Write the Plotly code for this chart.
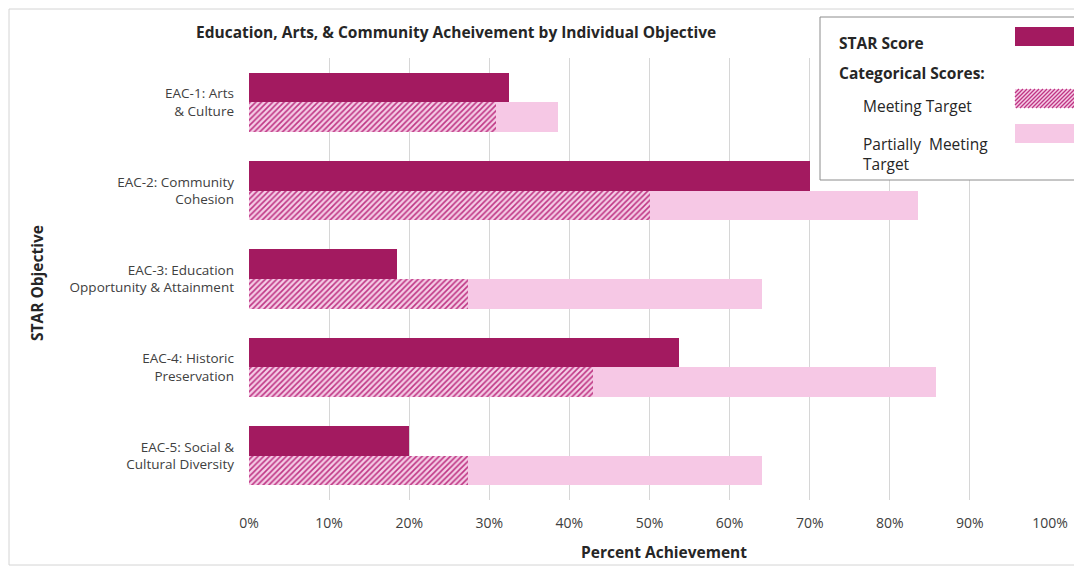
import plotly.graph_objects as go

categories = ["EAC-1: Arts<br>& Culture", "EAC-2: Community<br>Cohesion",
              "EAC-3: Education<br>Opportunity & Attainment",
              "EAC-4: Historic<br>Preservation", "EAC-5: Social &<br>Cultural Diversity"]
star_score = [32.5, 70.0, 18.5, 53.7, 20.0]
meeting_target = [30.8, 50.0, 27.3, 43.0, 27.3]
partial_total = [38.6, 83.5, 64.0, 85.8, 64.0]
partial_target = [round(t - m, 1) for t, m in zip(partial_total, meeting_target)]
tick_vals = [0, 10, 20, 30, 40, 50, 60, 70, 80, 90, 100]
tick_text = [f"{v}%" for v in tick_vals]

STAR_C = "#A31A60"
PART_C = "#F6C8E5"
HATCH_FG = "#BF3584"
HATCH_BG = "#F5CDE6"
FONT = "Open Sans"

OFF = 8  # page body margin
W, H = 1082 - OFF, 568 - OFF
# plot area in page pixel coordinates
L, R, T, B = 249, 1050, 58, 500


def px(x):
    return (x - L) / (R - L)


def py(y):
    return (B - y) / (B - T)


fig = go.Figure()
bw = 0.335
fig.add_trace(go.Bar(y=categories, x=star_score, orientation="h", width=bw, offset=-bw,
                     marker=dict(color=STAR_C, line=dict(width=0)), name="STAR Score",
                     showlegend=False))
fig.add_trace(go.Bar(y=categories, x=meeting_target, orientation="h", width=bw, offset=0,
                     marker=dict(color=HATCH_BG, line=dict(width=0),
                                 pattern=dict(shape="/", fgcolor=HATCH_FG, bgcolor=HATCH_BG,
                                              size=4, solidity=0.4, fillmode="replace")),
                     name="Meeting Target", showlegend=False))
fig.add_trace(go.Bar(y=categories, x=partial_target, base=meeting_target, orientation="h",
                     width=bw, offset=0, marker=dict(color=PART_C, line=dict(width=0)),
                     name="Partially Meeting Target", showlegend=False))

shapes = []
# outer chart frame
shapes.append(dict(type="rect", xref="paper", yref="paper", x0=px(9), x1=px(1077),
                   y0=py(9), y1=py(565), line=dict(color="#D4D4D4", width=1), layer="below"))
# legend box
shapes.append(dict(type="rect", xref="paper", yref="paper", x0=px(820), x1=px(1095),
                   y0=py(17), y1=py(180), line=dict(color="#8C8C8C", width=1),
                   fillcolor="white", layer="above"))
# legend swatches
shapes.append(dict(type="rect", xref="paper", yref="paper", x0=px(1015), x1=px(1095),
                   y0=py(27), y1=py(46), line=dict(width=0), fillcolor=STAR_C, layer="above"))
shapes.append(dict(type="rect", xref="paper", yref="paper", x0=px(1015), x1=px(1095),
                   y0=py(89), y1=py(108), line=dict(width=0), fillcolor=HATCH_BG, layer="above"))
shapes.append(dict(type="rect", xref="paper", yref="paper", x0=px(1015), x1=px(1095),
                   y0=py(124), y1=py(143), line=dict(width=0), fillcolor=PART_C, layer="above"))
# hatch lines for legend swatch
xa, xb, ya, yb = 1015, 1095, 89, 108
path = ""
c = xa + ya
while c <= xb + yb:
    xs = max(xa, c - yb)
    xe = min(xb, c - ya)
    if xe > xs:
        path += f"M{px(xs):.5f},{py(c - xs):.5f} L{px(xe):.5f},{py(c - xe):.5f} "
    c += 4
shapes.append(dict(type="path", xref="paper", yref="paper", path=path,
                   line=dict(color=HATCH_FG, width=1.3), layer="above"))

ann = []
txt = dict(color="#262626", family=FONT)
ann.append(dict(text="<b>Education, Arts, & Community Acheivement by Individual Objective</b>",
                x=px(456), y=py(32), xref="paper", yref="paper", showarrow=False,
                font=dict(size=15.5, **txt), xanchor="center", yanchor="middle"))
ann.append(dict(text="<b>Percent Achievement</b>", x=px(664), y=py(552), xref="paper",
                yref="paper", showarrow=False, font=dict(size=15.5, **txt),
                xanchor="center", yanchor="middle"))
ann.append(dict(text="<b>STAR Objective</b>", x=px(37), y=py(283), xref="paper",
                yref="paper", showarrow=False, font=dict(size=15.5, **txt), textangle=-90,
                xanchor="center", yanchor="middle"))
legend_items = [("<b>STAR Score</b>", 837, 43), ("<b>Categorical Scores:</b>", 837, 73),
                ("Meeting Target", 861, 106), ("Partially  Meeting<br>Target", 861, 154)]
for t, x, y in legend_items:
    ann.append(dict(text=t, x=px(x), y=py(y), xref="paper", yref="paper", showarrow=False,
                    font=dict(size=15.5, **txt), xanchor="left", yanchor="middle", align="left"))

fig.update_layout(
    width=W, height=H, barmode="overlay", bargap=0,
    margin=dict(l=L - OFF, r=W - (R - OFF), t=T - OFF, b=H - (B - OFF)),
    paper_bgcolor="white", plot_bgcolor="white",
    font=dict(family=FONT, size=13, color="#404040"),
    shapes=shapes, annotations=ann,
    xaxis=dict(range=[0, 100], tickvals=tick_vals, ticktext=tick_text, showgrid=True,
               gridcolor="#D6D6D6", gridwidth=1, zeroline=False, showline=False,
               ticks="", ticklabelstandoff=13, tickfont=dict(size=14, color="#404040")),
    yaxis=dict(autorange="reversed", showgrid=False, zeroline=False, showline=False,
               ticks="", ticklabelstandoff=14, tickfont=dict(size=13.5, color="#404040")),
)

fig.write_html("out.html")
